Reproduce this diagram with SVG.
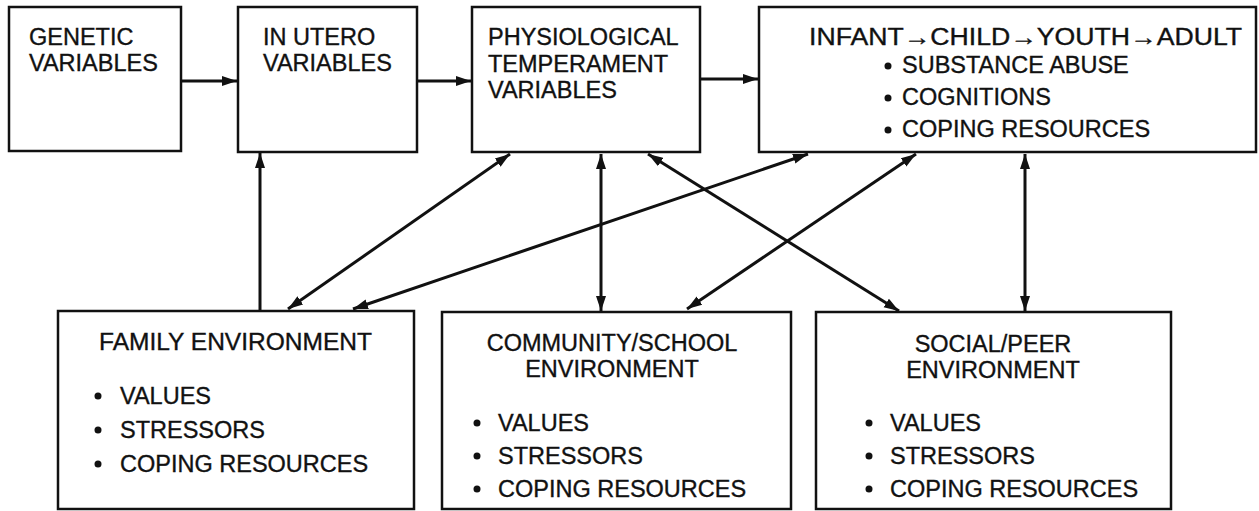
<svg xmlns="http://www.w3.org/2000/svg" width="1259" height="511" viewBox="0 0 1259 511">
<style>
.box{fill:#fff;stroke:#111;stroke-width:2.5}
.t{font-family:"Liberation Sans",Arial,sans-serif;font-size:23.5px;fill:#111;stroke:#111;stroke-width:0.35}
.c{text-anchor:middle}
.con{stroke:#111;stroke-width:3;fill:none}
.b{fill:#111}
</style>
<defs>
<marker id="ah" markerUnits="userSpaceOnUse" markerWidth="16" markerHeight="12" viewBox="0 0 16 12" refX="15" refY="6" orient="auto-start-reverse">
<path d="M0,1 L15,6 L0,11 z" fill="#111"/>
</marker>
</defs>
<rect width="1259" height="511" fill="#fff"/>
<g id="connectors">
<line class="con" x1="181" y1="81" x2="237" y2="81" marker-end="url(#ah)"/>
<line class="con" x1="417" y1="81" x2="471" y2="81" marker-end="url(#ah)"/>
<line class="con" x1="700" y1="79" x2="758" y2="79" marker-end="url(#ah)"/>
<line class="con" x1="260" y1="311" x2="260" y2="153" marker-end="url(#ah)"/>
<line class="con" x1="510" y1="154" x2="288" y2="309" marker-start="url(#ah)" marker-end="url(#ah)"/>
<line class="con" x1="808" y1="154" x2="353" y2="309" marker-start="url(#ah)" marker-end="url(#ah)"/>
<line class="con" x1="601" y1="154" x2="601" y2="311" marker-start="url(#ah)" marker-end="url(#ah)"/>
<line class="con" x1="648" y1="154" x2="899" y2="311" marker-start="url(#ah)" marker-end="url(#ah)"/>
<line class="con" x1="916" y1="154" x2="687" y2="309" marker-start="url(#ah)" marker-end="url(#ah)"/>
<line class="con" x1="1025" y1="154" x2="1025" y2="311" marker-start="url(#ah)" marker-end="url(#ah)"/>
</g>
<g id="genetic">
<rect class="box" x="9" y="7" width="172" height="144"/>
<text class="t" x="29" y="45">GENETIC</text>
<text class="t" x="29" y="71">VARIABLES</text>
</g>
<g id="inutero">
<rect class="box" x="238" y="7" width="179" height="145"/>
<text class="t" x="263" y="45">IN UTERO</text>
<text class="t" x="263" y="71">VARIABLES</text>
</g>
<g id="physio">
<rect class="box" x="472" y="7" width="228" height="145"/>
<text class="t" x="488" y="45">PHYSIOLOGICAL</text>
<text class="t" x="488" y="72">TEMPERAMENT</text>
<text class="t" x="488" y="98">VARIABLES</text>
</g>
<g id="development">
<rect class="box" x="759" y="7" width="497" height="145"/>
<text class="t" x="809" y="45" textLength="433" lengthAdjust="spacingAndGlyphs">INFANT→CHILD→YOUTH→ADULT</text>
<circle class="b" cx="888" cy="66" r="3.5"/>
<text class="t" x="902" y="73">SUBSTANCE ABUSE</text>
<circle class="b" cx="888" cy="98" r="3.5"/>
<text class="t" x="902" y="105">COGNITIONS</text>
<circle class="b" cx="888" cy="130" r="3.5"/>
<text class="t" x="902" y="137">COPING RESOURCES</text>
</g>
<g id="family">
<rect class="box" x="58" y="311" width="356" height="198"/>
<text class="t" x="99" y="350" textLength="273" lengthAdjust="spacingAndGlyphs">FAMILY ENVIRONMENT</text>
<circle class="b" cx="98" cy="396" r="3.5"/>
<text class="t" x="120" y="404">VALUES</text>
<circle class="b" cx="98" cy="430" r="3.5"/>
<text class="t" x="120" y="438">STRESSORS</text>
<circle class="b" cx="98" cy="464" r="3.5"/>
<text class="t" x="120" y="472">COPING RESOURCES</text>
</g>
<g id="community">
<rect class="box" x="442" y="312" width="349" height="197"/>
<text class="t c" x="612" y="351">COMMUNITY/SCHOOL</text>
<text class="t c" x="612" y="377">ENVIRONMENT</text>
<circle class="b" cx="477" cy="423" r="3.5"/>
<text class="t" x="498" y="431">VALUES</text>
<circle class="b" cx="477" cy="456" r="3.5"/>
<text class="t" x="498" y="464">STRESSORS</text>
<circle class="b" cx="477" cy="489" r="3.5"/>
<text class="t" x="498" y="497">COPING RESOURCES</text>
</g>
<g id="social">
<rect class="box" x="816" y="312" width="355" height="197"/>
<text class="t c" x="993" y="352">SOCIAL/PEER</text>
<text class="t c" x="993" y="378">ENVIRONMENT</text>
<circle class="b" cx="869" cy="423" r="3.5"/>
<text class="t" x="890" y="431">VALUES</text>
<circle class="b" cx="869" cy="456" r="3.5"/>
<text class="t" x="890" y="464">STRESSORS</text>
<circle class="b" cx="869" cy="489" r="3.5"/>
<text class="t" x="890" y="497">COPING RESOURCES</text>
</g>
</svg>
